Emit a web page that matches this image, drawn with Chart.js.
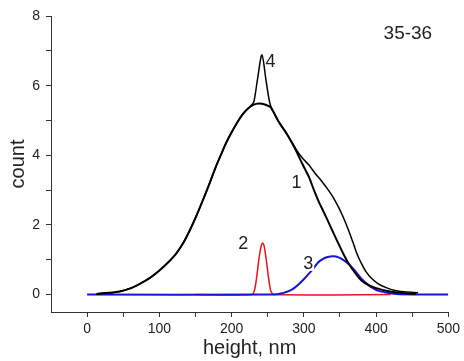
<!DOCTYPE html>
<html>
<head>
<meta charset="utf-8">
<script src="https://cdn.jsdelivr.net/npm/chart.js@4.4.1/dist/chart.umd.min.js"></script>
<style>
  html, body { margin: 0; padding: 0; background: #fff; }
  #box { width: 464px; height: 361px; }
</style>
</head>
<body>
<div id="box"><canvas id="grafico"></canvas></div>
<script>
// curva 1: gaussiana principal
const xCurva1 = [13, 30, 45, 60, 73, 87, 100, 112, 123, 133, 142, 151, 160, 170, 178, 186, 192, 200, 208, 215, 222, 230, 238, 246, 254, 265, 275, 284, 290, 298, 307, 314, 320, 328, 335, 342, 348, 355, 362, 371, 380, 391, 403, 414, 426, 440, 455];
const yCurva1 = [0.02, 0.05, 0.09, 0.18, 0.31, 0.48, 0.69, 0.92, 1.17, 1.48, 1.84, 2.25, 2.7, 3.22, 3.66, 4.05, 4.34, 4.66, 4.95, 5.17, 5.33, 5.45, 5.49, 5.46, 5.38, 4.97, 4.66, 4.34, 4.1, 3.75, 3.38, 3.0, 2.7, 2.35, 2.04, 1.72, 1.46, 1.16, 0.89, 0.62, 0.4, 0.26, 0.17, 0.11, 0.07, 0.04, 0.02];

// curva 4: soma
const xCurva4 = [13, 30, 45, 60, 73, 87, 100, 112, 123, 133, 142, 151, 160, 170, 178, 186, 192, 200, 208, 215, 222, 228, 231, 236, 242, 248, 254, 265, 275, 284, 290, 298, 307, 316, 325, 334, 341, 348, 355, 362, 368, 374, 380, 386, 394, 403, 414, 426, 440, 458];
const yCurva4 = [0.02, 0.05, 0.09, 0.18, 0.31, 0.48, 0.69, 0.92, 1.17, 1.48, 1.84, 2.25, 2.7, 3.22, 3.66, 4.05, 4.34, 4.66, 4.95, 5.17, 5.33, 5.45, 5.55, 6.2, 6.88, 6.1, 5.42, 4.97, 4.66, 4.36, 4.15, 3.92, 3.72, 3.47, 3.25, 3.0, 2.78, 2.51, 2.2, 1.84, 1.5, 1.15, 0.88, 0.66, 0.46, 0.31, 0.2, 0.12, 0.08, 0.05];

// curva 2: pico vermelho
const xCurva2 = [150, 228, 232, 235, 238, 241, 243, 245, 248, 251, 254, 258, 420];
const yCurva2 = [0, 0, 0.15, 0.55, 1.05, 1.4, 1.48, 1.4, 1.0, 0.5, 0.12, 0, 0];

// curva 3: pico azul
const xCurva3 = [0, 255, 265, 272, 279, 286, 293, 300, 307, 314, 320, 326, 333, 341, 348, 355, 362, 370, 380, 389, 398, 405, 412, 422, 432, 500];
const yCurva3 = [0, 0, 0.02, 0.05, 0.1, 0.18, 0.3, 0.44, 0.6, 0.77, 0.93, 1.02, 1.08, 1.1, 1.07, 0.99, 0.88, 0.7, 0.45, 0.28, 0.16, 0.1, 0.07, 0.03, 0.01, 0];

const xTicks = [0, 50, 100, 150, 200, 250, 300, 350, 400, 450, 500];
const yTicks = [0, 1, 2, 3, 4, 5, 6, 7, 8];

function pares(xs, ys) {
    return xs.map((x, i) => ({ x: x, y: ys[i] }));
}

// textos dentro do grafico
const rotulos = {
    id: 'rotulos',
    afterDatasetsDraw(chart) {
        const ctx = chart.ctx;
        const sx = chart.scales.x, sy = chart.scales.y;
        const itens = [
            { t: '4', x: 254, y: 6.68, f: 18 },
            { t: '1', x: 290, y: 3.2, f: 18 },
            { t: '2', x: 216, y: 1.45, f: 18 },
            { t: '3', x: 306, y: 0.88, f: 18, fundo: true },
            { t: '35-36', x: 444, y: 7.5, f: 19 }
        ];
        ctx.save();
        ctx.textAlign = 'center';
        ctx.textBaseline = 'middle';
        itens.forEach(it => {
            const px = sx.getPixelForValue(it.x);
            const py = sy.getPixelForValue(it.y);
            ctx.font = it.f + 'px "Liberation Sans", Arial, sans-serif';
            if (it.fundo) {
                const w = ctx.measureText(it.t).width;
                ctx.fillStyle = '#fff';
                ctx.fillRect(px - w / 2, py - 6, w + 1, 13);
            }
            ctx.fillStyle = '#222';
            ctx.fillText(it.t, px, py);
        });
        ctx.restore();
    }
};

const fonteEixo = { family: '"Liberation Sans", Arial, sans-serif', size: 14 };

new Chart(document.getElementById('grafico'), {
    type: 'scatter',
    data: {
        datasets: [
            { label: '4', data: pares(xCurva4, yCurva4), borderColor: '#000', borderWidth: 1.5, tension: 0.3 },
            { label: '1', data: pares(xCurva1, yCurva1), borderColor: '#000', borderWidth: 2, tension: 0.3 },
            { label: '3', data: pares(xCurva3, yCurva3), borderColor: '#1414d2', borderWidth: 2, tension: 0.3 },
            { label: '2', data: pares(xCurva2, yCurva2), borderColor: '#e8141c', borderWidth: 1.5, tension: 0.2 }
        ].map(d => Object.assign(d, { showLine: true, pointRadius: 0, fill: false }))
    },
    options: {
        responsive: true,
        maintainAspectRatio: false,
        animation: false,
        layout: { padding: { top: 16, right: 14, left: 0, bottom: 0 } },
        plugins: { legend: { display: false }, tooltip: { enabled: false } },
        scales: {
            x: {
                type: 'linear',
                min: -50,
                max: 500,
                afterBuildTicks: s => { s.ticks = xTicks.map(v => ({ value: v })); },
                afterFit: s => { s.height = 49; },
                grid: { drawOnChartArea: false, drawTicks: true, tickLength: 5, color: '#333' },
                border: { color: '#333', width: 1 },
                ticks: {
                    color: '#222', font: fonteEixo, padding: 4, maxRotation: 0, autoSkip: false,
                    callback: v => (v % 100 === 0 ? v : '')
                },
                title: {
                    display: true, text: 'height, nm', color: '#222',
                    font: { family: '"Liberation Sans", Arial, sans-serif', size: 20 },
                    padding: { top: 0, bottom: 1 }
                }
            },
            y: {
                type: 'linear',
                min: -0.5,
                max: 8,
                afterBuildTicks: s => { s.ticks = yTicks.map(v => ({ value: v })); },
                afterFit: s => { s.width = 51; },
                grid: { drawOnChartArea: false, drawTicks: true, tickLength: 5, color: '#333' },
                border: { color: '#333', width: 1 },
                ticks: {
                    color: '#222', font: fonteEixo, padding: 6, autoSkip: false,
                    callback: v => (v % 2 === 0 ? v : '')
                },
                title: {
                    display: true, text: 'count', color: '#222',
                    font: { family: '"Liberation Sans", Arial, sans-serif', size: 20 },
                    padding: { top: 6, bottom: 0 }
                }
            }
        }
    },
    plugins: [rotulos]
});
</script>
</body>
</html>
